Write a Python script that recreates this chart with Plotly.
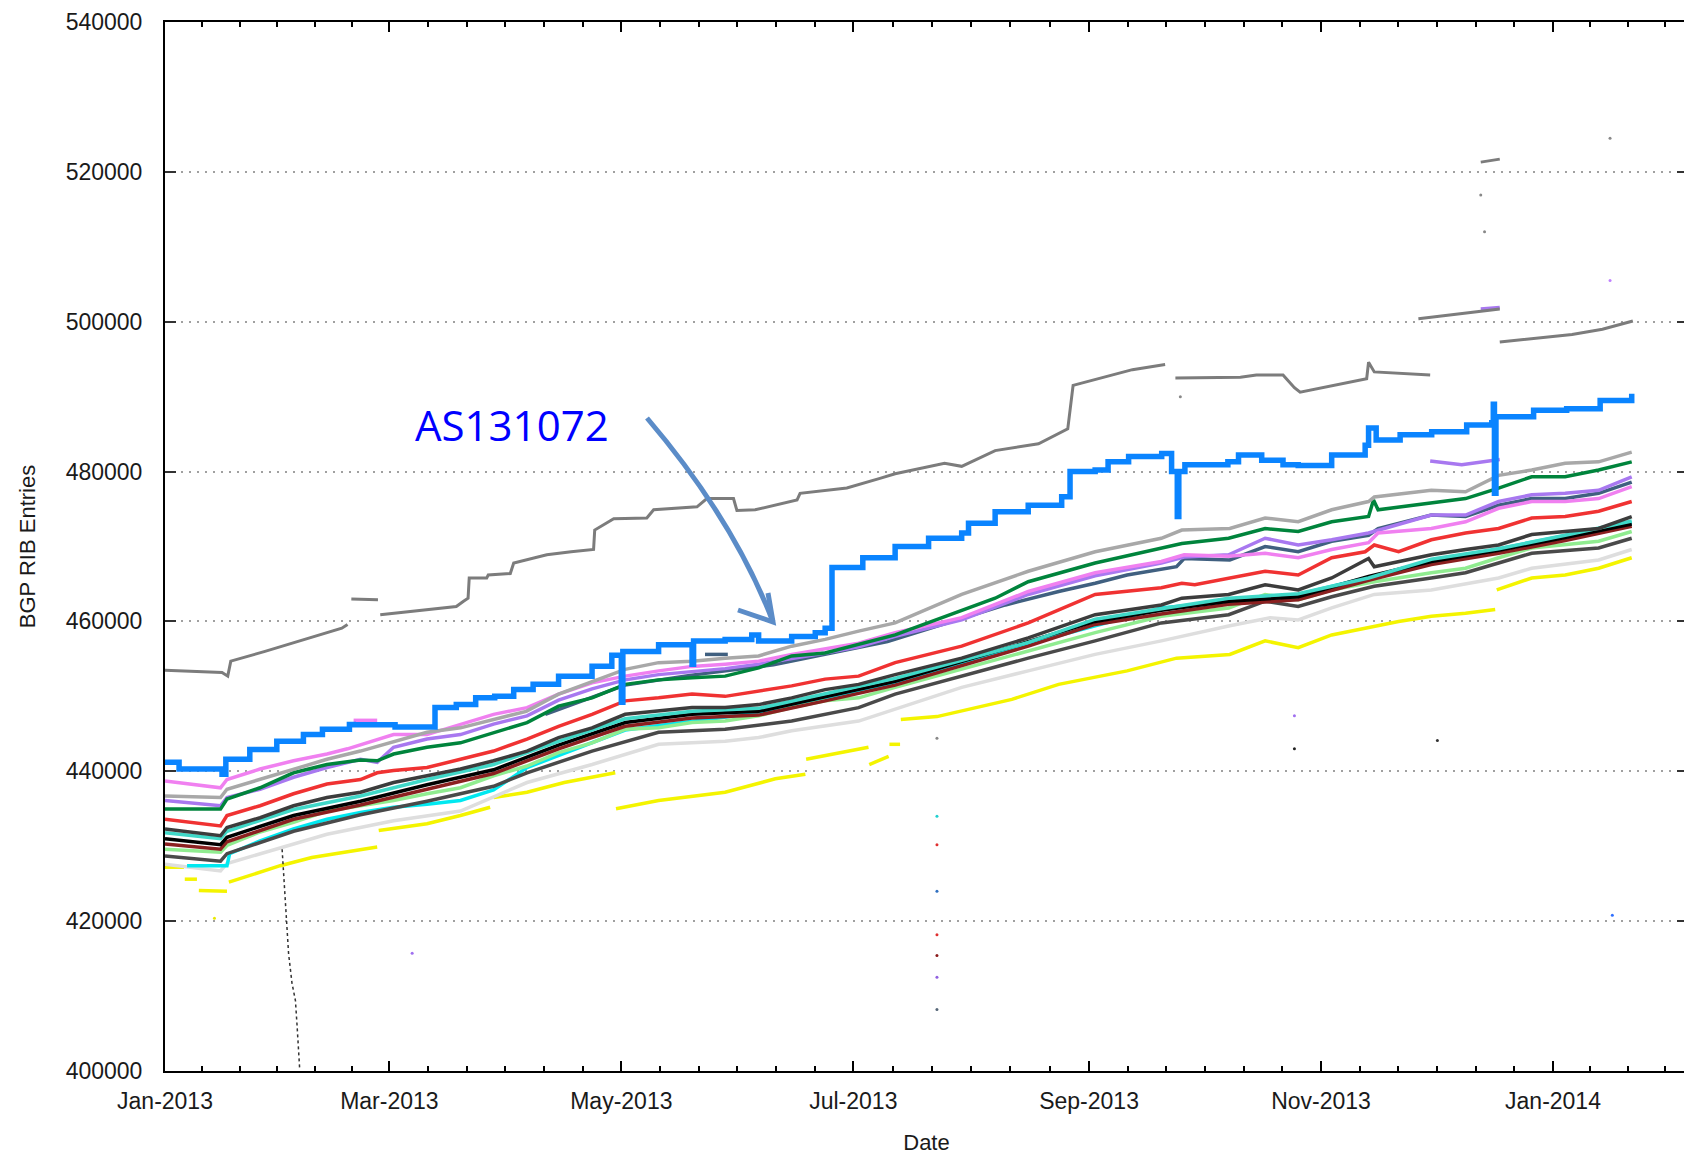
import plotly.graph_objects as go
import pandas as pd

# days since 2013-01-01 and BGP RIB entry counts
blue_days = [0, 3.7, 15.0, 16.0, 22.3, 29.4, 36.4, 41.4, 48.5, 49.5, 60.5, 71.0, 76.6, 81.7, 86.7,
             91.7, 96.8, 103.5, 112.3, 117.5, 120.0, 120.4, 129.8, 138.6, 139.0, 147.3, 154.3, 156.1,
             164.8, 171.0, 173.6, 175.4, 183.5, 192, 200.8, 209.5, 211.3, 218.3, 227, 235.8, 238,
             244.6, 248, 253.4, 262.1, 264.7, 266.2, 266.6, 268.2, 275.3, 279.5, 282.3, 288.4, 294,
             298, 306.8, 315.6, 316.5, 318.5, 324.8, 333.1, 342.3, 348.9, 349.3, 349.6, 350.0, 359.9,
             368.6, 377.4, 385.7]
blue_vals = [441200, 440300, 439600, 441600, 442900, 444000, 444900, 445600, 446250, 446200, 445900,
             448500, 448900, 449800, 450000, 450900, 451600, 452700, 454030, 455500, 449200, 456000,
             456900, 454300, 457400, 457600, 458200, 457400, 458000, 458500, 459100, 467200, 468500,
             470000, 471100, 471800, 473100, 474650, 475500, 476650, 480000, 480200, 481300, 482000,
             482400, 480000, 474000, 480000, 480900, 480900, 481300, 482200, 481500, 480900, 480800,
             482200, 483500, 485800, 484200, 484900, 485300, 486200, 486500, 489000, 477100, 487300,
             488200, 488400, 489500, 490400]

gray_days = [0, 15, 16.5, 17.3, 26.3, 36.4, 46.5, 48, None,
             49, 56, None,
             56.6, 66.6, 76.6, 78.5, 79.7, 80, 84.6, 85, 90.8, 91.7, 100.4, 106.8, 112.7, 113, 118,
             126.7, 128.5, 139.9, 142.5, 149.5, 150.4, 155.2, 166.2, 167, 179.3, 188, 192, 205, 209.5,
             218.3, 229.7, 237.4, 238.8, 254.4, 263, None,
             265.7, 282.8, 287, 294, 297, 298.5, 316, 316.5, 318, 332.7, None,
             329.6, 340, 351, None,
             351, 360, 370, 378, 386, None,
             346, 351]
gray_vals = [453500, 453200, 452700, 454700, 456000, 457600, 459100, 459600, None,
             463000, 462900, None,
             460900, 461500, 462000, 462700, 463100, 465800, 465800, 466200, 466400, 467800, 468900,
             469300, 469600, 472200, 473700, 473800, 474900, 475300, 476400, 476400, 474800, 474900,
             476200, 477100, 477800, 479100, 479700, 481100, 480700, 482800, 483700, 485700, 491500,
             493600, 494300, None,
             492500, 492600, 492900, 492900, 491200, 490600, 492400, 494600, 493300, 492900, None,
             500400, 501000, 501700, None,
             497300, 497800, 498300, 499000, 500100, None,
             521300, 521700]

ltgray_days = [0, 14.6, 16.3, 25, 33.8, 42.6, 51.4, 60.1, 68.9, 77.7, 86.4, 95, 103.5, 112.3, 121,
               129.8, 138.6, 147.3, 156.1, 164.8, 173.6, 182.4, 192, 209.5, 227, 244.6, 262, 267.4,
               280, 289.3, 298, 306.8, 316.5, 318, 333, 342, 350.7, 359.4, 368.2, 377, 385.7]
ltgray_vals = [436700, 436500, 437600, 438900, 440300, 441600, 442700, 444000, 445200, 445800, 446900,
               448000, 450300, 452000, 453600, 454500, 454700, 455100, 455400, 456700, 457600, 458700,
               459800, 463600, 466700, 469300, 471100, 472200, 472400, 473800, 473300, 474900, 476000,
               476600, 477500, 477300, 479500, 480200, 481100, 481300, 482600]

green_days = [0, 14.6, 16.3, 25, 33.8, 42.6, 51.4, 55.8, 60.1, 68.9, 77.7, 86.4, 95.2, 103.5, 112.3,
              121, 129.8, 138.6, 147.3, 156.1, 164.8, 173.6, 182.4, 192, 218.3, 227, 244.6, 262,
              267.4, 279.7, 289.3, 298, 306.8, 316.5, 317.8, 319, 333, 342, 350.7, 359.4, 368.2, 377,
              385.7]
green_vals = [434950, 434950, 436300, 437800, 439800, 440900, 441500, 441400, 442300, 443200, 443800,
              445100, 446500, 448700, 449800, 451600, 452200, 452500, 452700, 453800, 455400, 455800,
              456900, 458200, 463100, 465300, 467800, 469800, 470400, 471100, 472400, 472000, 473300,
              474000, 476200, 474900, 475800, 476400, 477800, 479300, 479300, 480200, 481300]

violet_days = [0, 14.6, 16.3, 25, 33.8, 42.6, 48, 60.1, 68.9, 77.7, 86.4, 95.2, 103.5, 112.3, 121,
               129.8, 138.6, 147.3, 156.1, 164.8, 173.6, 182.4, 192, 209.5, 227, 244.6, 262, 268,
               279.7, 289.3, 298, 306.8, 316.5, 319, 333, 342, 350.7, 359.4, 368.2, 377, 385.7, None,
               49.6, 55.8]
violet_vals = [438700, 437800, 438900, 440300, 441400, 442300, 443000, 444900, 444900, 446300, 447600,
               448500, 450300, 451800, 452700, 453400, 454000, 454300, 454700, 455600, 456300, 457100,
               458500, 460500, 464000, 466500, 468000, 468900, 468700, 469100, 468500, 469600, 470500,
               471800, 472400, 473300, 475100, 476000, 476000, 476400, 478000, None,
               446800, 446800]

purple_days = [0, 14.6, 16.3, 25, 33.8, 42.6, 51.4, 55.8, 60.1, 68.9, 77.7, 86.4, 95.2, 103.5, 112.3,
               121, 129.8, 138.6, 147.3, 156.1, 164.8, 173.6, 182.4, 192, 209.5, 227, 244.6, 262, 268,
               279.7, 289.3, 298, 306.8, 316.5, 333, 342, 350.7, 359.4, 368.2, 377, 385.7, None,
               332.7, 341, 351, None,
               346, 351]
purple_vals = [436100, 435400, 436500, 437600, 439200, 440500, 441600, 441200, 443200, 444300, 444900,
               446300, 447400, 449500, 451000, 452200, 452900, 453300, 453700, 454300, 455000, 455800,
               456600, 458000, 460200, 463600, 466100, 467800, 468600, 468900, 471100, 470200, 470900,
               471800, 474200, 474200, 476000, 476900, 477100, 477500, 479300, None,
               481400, 480900, 481600, None,
               501700, 501900]

slate_days = [100, 121, 138, 160, 190, 221, 235, 244.6, 253, 266, 268, 280, 289.3, 298, 306.8, 316.5,
              319, 333, 342, 350.7, 359.4, 368.2, 377, 385.7, None,
              142, 148]
slate_vals = [447600, 451500, 452800, 454200, 457300, 462200, 464000, 465100, 466200, 467300, 468400,
              468200, 470000, 469300, 470700, 471500, 472400, 474200, 474000, 475500, 476400, 476400,
              477100, 478600, None,
              455600, 455600]

red_days = [0, 14.6, 16.3, 25, 33.8, 42.6, 51.4, 55.8, 60.1, 68.9, 77.7, 86.4, 95.2, 103.5, 112.3,
            121, 129.8, 138.6, 147.3, 156.1, 164.8, 173.6, 182.4, 192, 209.5, 227, 244.6, 262, 267.4,
            270.8, 279.7, 289.3, 298, 306.8, 315.6, 318, 324.4, 333, 342, 350.7, 359.4, 368.2, 377,
            385.7]
red_vals = [433600, 432700, 434100, 435400, 437000, 438300, 438900, 439800, 440100, 440500, 441600,
            442700, 444300, 446000, 447600, 449400, 449800, 450300, 450000, 450700, 451400, 452300,
            452700, 454500, 456700, 459800, 463600, 464500, 465100, 464900, 465800, 466700, 466200,
            468500, 469300, 470200, 469300, 470900, 471800, 472400, 473800, 474000, 474700, 476000]

dark_days = [0, 14.6, 16.3, 25, 33.8, 42.6, 51.4, 60.1, 68.9, 77.7, 86.4, 95.2, 103.5, 112.3, 121,
             129.8, 138.6, 147.3, 156.1, 164.8, 173.6, 182.4, 192, 209.5, 227, 244.6, 262, 267.4,
             279.7, 289.3, 298, 306.8, 316.5, 318, 333, 342, 350.7, 359.4, 368.2, 377, 385.7]
dark_vals = [432300, 431400, 432500, 433800, 435400, 436500, 437200, 438500, 439400, 440300, 441400,
             442700, 444500, 445800, 447600, 448000, 448500, 448500, 448900, 449800, 450900, 451600,
             452900, 455100, 457800, 460900, 462200, 463100, 463600, 464900, 464200, 465800, 468400,
             467300, 468900, 469600, 470200, 471600, 472000, 472400, 474000]

band_days = [0, 14.6, 16.3, 33.8, 51.4, 68.9, 86.4, 103.5, 121, 138.6, 156.1, 173.6, 192, 227, 244.6,
             262, 279.7, 298, 316.5, 333, 350.7, 368.2, 385.7]
teal_vals = [431800, 431000, 432000, 434900, 436700, 438900, 440900, 444000, 447000, 448000, 448400,
             450300, 452400, 457200, 460300, 461700, 463100, 463700, 465800, 468300, 469700, 471500,
             473400]
black_vals = [431000, 430200, 431200, 434100, 436000, 438200, 440200, 443500, 446500, 447600, 448000,
              449900, 452000, 457300, 460000, 461500, 462700, 463300, 466000, 468000, 469500, 471200,
              473000]
brown_vals = [430300, 429600, 430600, 433600, 435500, 437600, 439700, 443000, 446000, 447100, 447500,
              449400, 451500, 456700, 459600, 461000, 462300, 462900, 465500, 467600, 469100, 470800,
              472700]

lgreen_days = [0, 14.6, 16.3, 25, 33.8, 42.6, 51.4, 60.1, 68.9, 77.7, 86.4, 95.2, 103.5, 112.3, 121,
               129.8, 138.6, 147.3, 156.1, 164.8, 173.6, 182.4, 192, 227, 244.6, 262, 279.7, 289.3,
               298, 306.8, 318, 333, 342, 350.7, 359.4, 377, 385.7]
lgreen_vals = [429600, 429200, 430100, 431900, 433200, 434700, 435400, 436100, 437000, 437800, 439400,
               440700, 442500, 443800, 445600, 445800, 446500, 446700, 447400, 448500, 449400, 449800,
               451200, 456000, 458500, 460700, 461800, 463600, 462900, 464200, 465300, 466500, 467100,
               468500, 469800, 470700, 472000]

dkgray_days = [0, 14.6, 16.3, 33.8, 51.4, 68.9, 86.4, 95.2, 112.3, 129.8, 147.3, 164.8, 182.4, 192,
               227, 244.6, 262, 279.7, 289.3, 298, 306.8, 318, 333, 342, 350.7, 359.4, 377, 385.7]
dkgray_vals = [428700, 428000, 429000, 432000, 434200, 436000, 438000, 439800, 442700, 445200, 445600,
               446700, 448500, 450300, 455100, 457400, 459800, 460900, 462700, 462000, 463300, 464700,
               465800, 466500, 467800, 469100, 469800, 471100]

cyan_days = [5.8, 16.3, 17, 25, 33.8, 42.6, 51.4, 60.1, 68.9, 77.7, 86.4, 95.2, 121, 156.1, 192, 227,
             262, 298, 333, 368.2, 385.7]
cyan_vals = [427400, 427400, 429000, 430700, 432300, 433600, 434500, 435200, 435600, 436100, 437500,
             440500, 445500, 447800, 451800, 457000, 461800, 463600, 467900, 471400, 473200]

pale_days = [0, 14.6, 16.3, 25, 42.6, 60.1, 77.7, 95.2, 103.5, 112.3, 129.8, 147.3, 156.1, 164.8,
             182.4, 192, 209.5, 227, 244.6, 262, 279.7, 290.6, 298, 306.8, 318, 333, 350.7, 359.4,
             368.2, 377, 385.7]
pale_vals = [427600, 426700, 427700, 429000, 431600, 433400, 434700, 438500, 439700, 440900, 443600,
             444000, 444500, 445400, 446700, 448300, 451200, 453400, 455600, 457400, 459400, 460500,
             460200, 461800, 463600, 464200, 465800, 467100, 467600, 468200, 469600]

yellow_days = [0, 5, None, 5.2, 8.4, None, 8.9, 16.3, None,
               16.8, 25, 30.3, 38.6, 47, 55.8, None,
               56.2, 68.9, 77.7, 85.5, None,
               86.4, 95.2, 105, 118.4, None,
               118.6, 129.8, 147.3, 160.5, 168.4, None,
               168.6, 185, None, 185.2, 190.3, None, 190.5, 193.3, None,
               193.5, 203, 222.7, 235, 253, 266, 280, 289.3, 298, 306.8, 315.6, 324.4, 333, 342,
               349.8, None,
               350.2, 359.4, 368.2, 377, 385.7]
yellow_vals = [427200, 427200, None, 425600, 425600, None, 424100, 424000, None,
               425200, 426500, 427400, 428500, 429200, 429900, None,
               432100, 433000, 434100, 435200, None,
               436500, 437200, 438500, 439800, None,
               435000, 436100, 437200, 439000, 439600, None,
               441600, 443200, None, 440900, 442000, None, 443600, 443600, None,
               446900, 447300, 449600, 451600, 453400, 455100, 455600, 457400, 456500, 458200,
               459100, 460000, 460700, 461100, 461600, None,
               464200, 465800, 466200, 467100, 468500]

fall_days = [30.8, 31.2, 31.6, 32.1, 32.5, 33.4, 34.3, 34.7, 35.4]
fall_vals = [429600, 426300, 422750, 419900, 415650, 411700, 409400, 406300, 400400]

stray_days = [203, 203, 203, 203, 203, 203, 203, 203, 380.6, 65, 297, 297, 334.6, 346, 347, 267,
              380, 380, 13]
stray_vals = [444400, 434000, 430200, 424000, 418200, 415400, 412500, 408200, 420800, 415700, 447400,
              443000, 444100, 516900, 512000, 490000, 505500, 524500, 420400]
stray_colors = ["#888888", "#20d0d0", "#e03030", "#3070c0", "#e03030", "#8b1a1a", "#9060e0",
                "#556677", "#3070ff", "#a070f0", "#a070f0", "#222222", "#333333", "#888888",
                "#888888", "#888888", "#c080ff", "#888888", "#e8e800"]

START = pd.Timestamp("2013-01-01")


def to_dates(days):
    return [None if d is None else START + pd.Timedelta(days=d) for d in days]


fig = go.Figure()


def add_band(days, vals, color, width=3.5, shape="linear"):
    fig.add_trace(go.Scatter(
        x=to_dates(days), y=vals, mode="lines",
        line=dict(color=color, width=width, shape=shape),
        connectgaps=False, hoverinfo="skip"
    ))


add_band(yellow_days, yellow_vals, "#f4f400")
add_band(pale_days, pale_vals, "#dedede")
add_band(cyan_days, cyan_vals, "#00e8f0")
add_band(dkgray_days, dkgray_vals, "#4a4a4a")
add_band(lgreen_days, lgreen_vals, "#90ec90")
add_band(band_days, brown_vals, "#8b2020")
add_band(band_days, black_vals, "#000000")
add_band(band_days, teal_vals, "#40d8c8")
add_band(dark_days, dark_vals, "#3c3c3c")
add_band(red_days, red_vals, "#f03232")
add_band(slate_days, slate_vals, "#406080")
add_band(purple_days, purple_vals, "#a878f0")
add_band(violet_days, violet_vals, "#f080f0")
add_band(green_days, green_vals, "#00843c")
add_band(ltgray_days, ltgray_vals, "#a8a8a8")
add_band(gray_days, gray_vals, "#7c7c7c", width=3)
add_band(blue_days, blue_vals, "#0a84ff", width=5.5, shape="hv")

fig.add_trace(go.Scatter(
    x=to_dates(fall_days), y=fall_vals, mode="lines",
    line=dict(color="#333333", width=1.5, dash="dot"), hoverinfo="skip"
))

fig.add_trace(go.Scatter(
    x=to_dates(stray_days), y=stray_vals, mode="markers",
    marker=dict(color=stray_colors, size=3), hoverinfo="skip"
))

# minor ticks: each two-month interval split in six
majors = pd.date_range("2013-01-01", "2014-03-01", freq="2MS")
minor_ticks = []
for a, b in zip(majors[:-1], majors[1:]):
    step = (b - a) / 6
    minor_ticks += [a + step * k for k in range(1, 6)]

# the page body keeps an 8px margin, so the figure is 8px smaller than the window
fig.update_layout(
    width=1684,
    height=1147,
    showlegend=False,
    paper_bgcolor="white",
    plot_bgcolor="white",
    margin=dict(l=157, r=4, t=14, b=84),
    font=dict(family="Liberation Sans, Arial", size=22, color="#1a1a1a"),
    xaxis=dict(
        type="date",
        automargin=False,
        range=["2013-01-01", "2014-02-05 12:00"],
        tick0="2013-01-01",
        dtick="M2",
        tickformat="%b-%Y",
        ticks="inside",
        ticklen=10,
        tickwidth=1.5,
        tickcolor="black",
        ticklabelstandoff=8,
        tickfont=dict(size=23),
        showgrid=False,
        zeroline=False,
        showline=True,
        linecolor="black",
        linewidth=2,
        mirror="allticks",
        minor=dict(tickmode="array", tickvals=minor_ticks, ticks="inside",
                   ticklen=5, tickwidth=1.5, tickcolor="black", showgrid=False),
        title=dict(text="Date", standoff=22, font=dict(size=22)),
    ),
    yaxis=dict(
        automargin=False,
        range=[400000, 540000],
        dtick=20000,
        tickformat="d",
        ticks="inside",
        ticklen=11,
        tickwidth=2,
        tickcolor="#333333",
        ticklabelstandoff=16,
        ticklabeloverflow="allow",
        tickfont=dict(size=23),
        showgrid=True,
        gridcolor="#a0a0a0",
        gridwidth=1.5,
        griddash="2px,6px",
        zeroline=False,
        showline=True,
        linecolor="black",
        linewidth=2,
        mirror="allticks",
        title=dict(text="BGP RIB Entries", standoff=24, font=dict(size=22)),
    ),
)


def px_to_paper(x, y):
    return (x - 165) / 1523, (1071 - y) / 1049


p0 = px_to_paper(647, 418)
pc = px_to_paper(734, 520)
p2 = px_to_paper(773, 622)
a1 = px_to_paper(738, 610)
a2 = px_to_paper(768, 593)

fig.add_shape(
    type="path", xref="paper", yref="paper",
    path=f"M {p0[0]},{p0[1]} Q {pc[0]},{pc[1]} {p2[0]},{p2[1]}",
    line=dict(color="#5b8cc8", width=5)
)
fig.add_shape(
    type="path", xref="paper", yref="paper",
    path=f"M {a1[0]},{a1[1]} L {p2[0]},{p2[1]} L {a2[0]},{a2[1]}",
    line=dict(color="#5b8cc8", width=5)
)

fig.add_annotation(
    x=px_to_paper(512, 424)[0], y=px_to_paper(512, 424)[1],
    xref="paper", yref="paper", showarrow=False,
    text="AS131072",
    font=dict(family="Open Sans", size=42, color="#0000ff"),
    xanchor="center", yanchor="middle"
)

fig.write_html("out.html")
